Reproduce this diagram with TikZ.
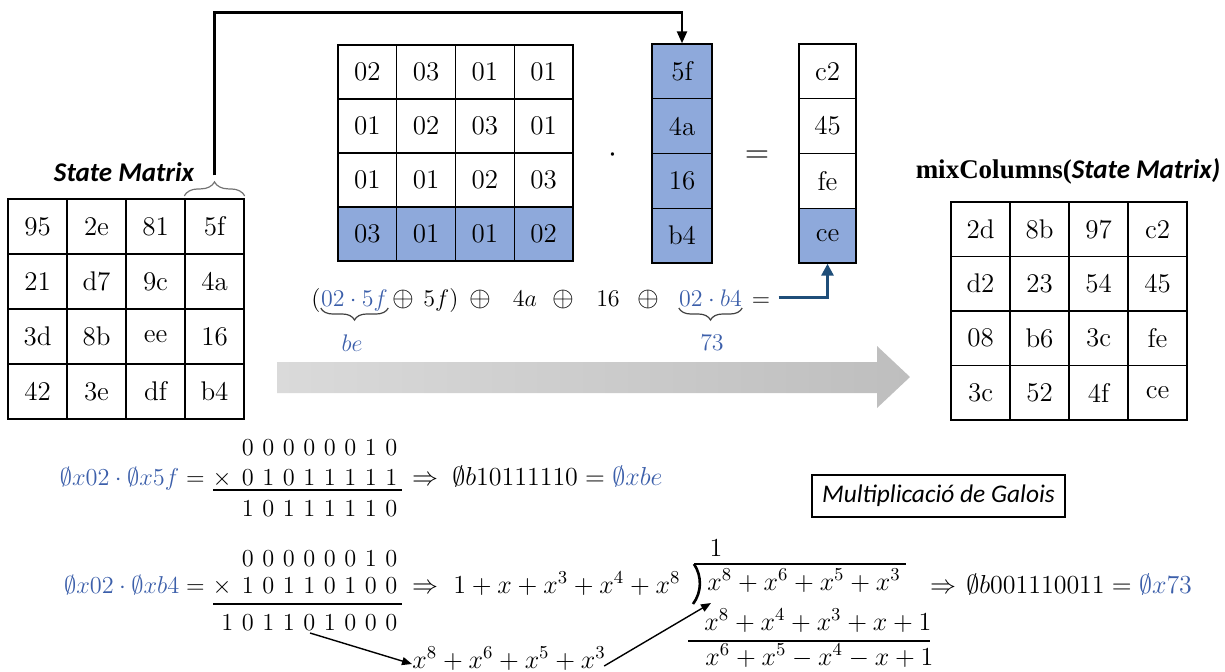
\RequirePackage{fix-cm}
\documentclass[tikz,border=0pt]{standalone}
\usepackage{fontspec}
\usepackage{amsmath}
\usetikzlibrary{arrows.meta,decorations.pathreplacing,calc}
\newfontfamily\calfont{Carlito}
\newfontfamily\serfont{Liberation Serif}
\definecolor{cellblue}{RGB}{142,169,219}
\definecolor{eqblue}{RGB}{60,95,170}
\definecolor{arrowblue}{RGB}{31,78,121}
\definecolor{greyA}{RGB}{218,218,218}
\definecolor{greyB}{RGB}{190,190,190}
% one binary digit on a fixed pitch, and a row of them
\newcommand\bitbox[1]{\makebox[10.25pt]{#1}}
\newcommand\bitrow[1]{\foreach \bt in {#1}{\bitbox{\bt}}}
\begin{document}
\begin{tikzpicture}[x=0.5pt,y=-0.5pt,
  cell/.style={draw, line width=0.7pt, inner sep=0pt, font=\fontsize{13.5}{16}\selectfont},
  hl/.style={fill=cellblue},
  mrow1/.style={}, mrow2/.style={}, mrow3/.style={}, mrow4/.style={hl},
  eq/.style={inner sep=0pt, font=\fontsize{12}{14}\selectfont},
  xo/.style={inner sep=0pt, font=\fontsize{14}{16}\selectfont},
  bm/.style={inner sep=0pt, font=\fontsize{12.2}{15}\selectfont},
  bmL/.style={inner sep=0pt, font=\fontsize{13}{16}\selectfont},
  conn/.style={line width=1.2pt, -{Triangle[length=6pt,width=5pt]}},
  blueconn/.style={line width=1.5pt, arrowblue, -{Triangle[length=6pt,width=6pt]}},
  thinarr/.style={line width=0.7pt, -{Triangle[length=5pt,width=4pt]}},
  ubr/.style={decorate, decoration={brace, mirror, amplitude=6pt}, line width=0.6pt, black!75},
  obr/.style={decorate, decoration={brace, amplitude=7pt}, line width=0.6pt, black!55},
  rulel/.style={line width=0.8pt},
  title/.style={inner sep=0pt, font=\fontsize{13.5}{16}\selectfont}
]
\useasboundingbox (0,0) rectangle (1225,671);

% ---- state matrix ----
\node[title, font=\calfont\bfseries\itshape\fontsize{13.5}{16}\selectfont] (t1) at (124,172) {State Matrix};
\foreach \row [count=\ri] in {{95,2e,81,5f},{21,d7,9c,4a},{3d,8b,ee,16},{42,3e,df,b4}}
  \foreach \v [count=\ci] in \row
    \node[cell, minimum width=29.5pt, minimum height=27.5pt] (s\ri\ci) at ({8+59*(\ci-0.5)},{199+55*(\ri-0.5)}) {\v};
\draw[obr] ([yshift=1.2pt]s14.north west) -- ([yshift=1.2pt]s14.north east);
\coordinate (sbr) at ($(s14.north)+(0,-23)$);

% ---- mixing matrix, column and result ----
\foreach \row [count=\ri] in {{02,03,01,01},{01,02,03,01},{01,01,02,03},{03,01,01,02}}
  \foreach \v [count=\ci] in \row
    \node[cell, mrow\ri, minimum width=29.375pt, minimum height=27pt] (a\ri\ci) at ({338+58.75*(\ci-0.5)},{45+54*(\ri-0.5)}) {\v};
\foreach \v [count=\ri] in {5f,4a,16,b4}
  \node[cell, hl, minimum width=30pt, minimum height=27.375pt] (v\ri) at (682,{44+54.75*(\ri-0.5)}) {\v};
\foreach \v [count=\ri] in {c2,45,fe,ce}
  \node[cell, mrow\ri, minimum width=28.5pt, minimum height=27.375pt] (r\ri) at (827.5,{44+54.75*(\ri-0.5)}) {\v};
\node[inner sep=0pt, font=\fontsize{16}{18}\selectfont] (dot) at (613,155) {$\cdot$};
\node[inner sep=0pt, font=\fontsize{16}{18}\selectfont] (eqm) at (757,157) {$=$};

\draw[conn] (sbr) -- ++(0,-163) -| (v1.north);

% ---- result matrix ----
\node[title] (t2) at (1068,171) {{\serfont\bfseries mixColumns(}{\calfont\bfseries\itshape State Matrix)}};
\foreach \row [count=\ri] in {{2d,8b,97,c2},{d2,23,54,45},{08,b6,3c,fe},{3c,52,4f,ce}}
  \foreach \v [count=\ci] in \row
    \node[cell, minimum width=29.5pt, minimum height=27.25pt] (m\ri\ci) at ({951+59*(\ci-0.5)},{202+54.5*(\ri-0.5)}) {\v};

% ---- expression for the last entry ----
\node[eq, anchor=base] (lp) at (316,306) {$($};
\node[eq, anchor=base, text=eqblue] (n25f) at (354.5,306) {$02\cdot 5f$};
\node[xo, anchor=base] (o1) at (403,306) {$\oplus$};
\node[eq, anchor=base] (f5) at (441,306) {$5f)$};
\node[xo, anchor=base] (o2) at (480,306) {$\oplus$};
\node[eq, anchor=base] (a4) at (525,306) {$4a$};
\node[xo, anchor=base] (o3) at (563,306) {$\oplus$};
\node[eq, anchor=base] (s16) at (608,306) {$16$};
\node[xo, anchor=base] (o4) at (648,306) {$\oplus$};
\node[eq, anchor=base, text=eqblue] (nb4) at (710.5,306) {$02\cdot b4$};
\node[eq, anchor=base] (eqs) at (761,306) {$=$};
\draw[ubr] ([yshift=-1pt]n25f.base west) -- ([yshift=-1pt]n25f.base east);
\draw[ubr] ([yshift=-1pt]nb4.base west) -- ([yshift=-1pt]nb4.base east);
\node[eq, text=eqblue] (lbe) at (352,343) {$be$};
\node[eq, text=eqblue] (l73) at (712,343) {$73$};
\draw[blueconn] ([xshift=4pt,yshift=2pt]eqs.east) -| (r4.south);

% ---- transition arrow ----
\shade[left color=greyA, right color=greyB]
  (277,362) -- (877,362) -- (877,346) -- (910,377) -- (877,408) -- (877,393) -- (277,393) -- cycle;

% ---- 02 * 5f ----
\node[bm, anchor=base east] (l1) at (205,485) {$\textcolor{eqblue}{\emptyset x02\cdot\emptyset x5f}=$};
\node[bm, anchor=base east] (b1a) at (402,455) {\bitrow{0,0,0,0,0,0,1,0}};
\node[bm, anchor=base east] (b1b) at (402,485) {\bitrow{0,1,0,1,1,1,1,1}};
\node[bm, anchor=base] (x1) at (222,485) {$\times$};
\draw[rulel] (213,490) -- (402,490);
\node[bm, anchor=base east] (b1c) at (402,516) {\bitrow{1,0,1,1,1,1,1,0}};
\node[bmL, anchor=base] (imp1) at (425,485) {$\Rightarrow$};
\node[bmL, anchor=base west] (res1) at (452,485) {$\emptyset b10111110=\textcolor{eqblue}{\emptyset xbe}$};

\node[draw, line width=0.6pt, inner sep=0pt, minimum width=126.5pt, minimum height=21pt,
  font=\calfont\itshape\fontsize{12.7}{15}\selectfont] (gal) at (938.5,496) {Multiplicació de Galois};

% ---- 02 * b4 ----
\node[bm, anchor=base east] (l2) at (205,593) {$\textcolor{eqblue}{\emptyset x02\cdot\emptyset xb4}=$};
\node[bm, anchor=base east] (b2a) at (402,566) {\bitrow{0,0,0,0,0,0,1,0}};
\node[bm, anchor=base east] (b2b) at (402,593) {\bitrow{1,0,1,1,0,1,0,0}};
\node[bm, anchor=base] (x2) at (222,593) {$\times$};
\draw[rulel] (213,604) -- (402,604);
\node[bm, anchor=base east] (b2c) at (402,630) {\bitrow{1,0,1,1,0,1,0,0,0}};
\node[bmL, anchor=base] (imp2) at (425,593) {$\Rightarrow$};
\node[bmL, anchor=base west] (poly) at (453,593) {$1+x+x^3+x^4+x^8$};

% polynomial long division
\node[bmL, anchor=base] (q) at (716,556) {$1$};
\node[bmL, anchor=base west] (dvd) at (707,590) {$x^8+x^6+x^5+x^3$};
\draw[line width=1.3pt] (694,564) .. controls (702,576) and (702,592) .. (693,604);
\draw[line width=1.2pt] (694,564) -- (906,564);
\node[bmL, anchor=base west] (dvs) at (704,630) {$x^8+x^4+x^3+x+1$};
\draw[line width=1.3pt] (688,641) -- (930,641);
\node[bmL, anchor=base west] (rem) at (705,665) {$x^6+x^5-x^4-x+1$};
\node[bmL, anchor=base] (imp3) at (943,593) {$\Rightarrow$};
\node[bmL, anchor=base west] (res2) at (966,593) {$\emptyset b001110011=\textcolor{eqblue}{\emptyset x73}$};

% product read as a polynomial
\node[bmL, anchor=base west] (pb) at (412,668) {$x^8+x^6+x^5+x^3$};
\coordinate (d5) at (310,633);
\coordinate (tgt) at (711,603);
\draw[thinarr] (d5) -- ([yshift=2pt]pb.base west);
\draw[thinarr] ([xshift=-1pt,yshift=1pt]pb.base east) -- (tgt);
\end{tikzpicture}
\end{document}
